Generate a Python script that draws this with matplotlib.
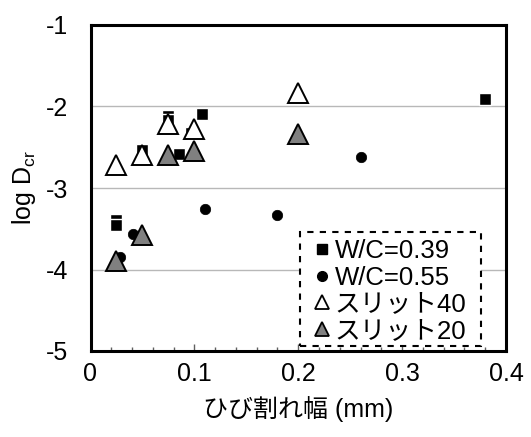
import numpy as np
import matplotlib
matplotlib.use("Agg")
import matplotlib.pyplot as plt
from matplotlib.ticker import MultipleLocator, FuncFormatter
from matplotlib.lines import Line2D
from matplotlib.patches import Rectangle

plt.rcParams['font.family'] = ['Liberation Sans', 'Noto Sans CJK JP', 'DejaVu Sans']
plt.rcParams['mathtext.default'] = 'regular'
plt.rcParams['axes.unicode_minus'] = False

# W/C=0.39 (squares); first two are the partly hidden back squares
wc39_x = [0.025, 0.075, 0.025, 0.075, 0.050, 0.085, 0.097, 0.107, 0.380]
wc39_y = [-3.39, -2.12, -3.45, -2.17, -2.53, -2.58, -2.32, -2.09, -1.91]

# W/C=0.55 (circles)
wc55_x = [0.028, 0.041, 0.110, 0.180, 0.260]
wc55_y = [-3.85, -3.57, -3.26, -3.33, -2.62]

# slit 40 (open triangles)
s40_x = [0.025, 0.050, 0.075, 0.100, 0.200]
s40_y = [-2.72, -2.60, -2.21, -2.28, -1.83]

# slit 20 (grey triangles)
s20_x = [0.025, 0.050, 0.075, 0.100, 0.200]
s20_y = [-3.90, -3.58, -2.60, -2.55, -2.34]

labels = ['W/C=0.39', 'W/C=0.55', 'スリット40', 'スリット20']

fig = plt.figure(figsize=(5.31, 4.37), dpi=100)
ax = fig.add_axes([90.5 / 531, 86 / 437, 415.5 / 531, 326 / 437])

ax.plot(wc39_x, wc39_y, 's', ms=9, mfc='black', mec='white', mew=1.0, ls='none', zorder=3)
ax.plot(wc55_x, wc55_y, 'o', ms=7.5, mfc='black', mec='black', mew=0.5, ls='none', zorder=4)
ax.plot(s40_x, s40_y, '^', ms=14, mfc='white', mec='black', mew=1.4, ls='none', zorder=5)
ax.plot(s20_x, s20_y, '^', ms=14, mfc='#808080', mec='black', mew=1.4, ls='none', zorder=5)

ax.set_xlim(0, 0.4)
ax.set_ylim(-5, -1)
ax.xaxis.set_major_locator(MultipleLocator(0.1))
ax.xaxis.set_minor_locator(MultipleLocator(0.02))
ax.yaxis.set_major_locator(MultipleLocator(1))
ax.xaxis.set_major_formatter(FuncFormatter(lambda v, p: f'{v:g}'))
ax.tick_params(axis='x', which='major', direction='in', length=5, width=1, color='#606060',
               labelsize=18, pad=8)
ax.tick_params(axis='x', which='minor', direction='in', length=3, width=1, color='#606060')
ax.tick_params(axis='y', which='major', length=0, labelsize=18, pad=16)
ax.yaxis.grid(True, color='#b8b8b8', linewidth=1.0)
ax.set_axisbelow(True)

for sp in ax.spines.values():
    sp.set_linewidth(2.2)
    sp.set_color('black')

ax.set_xlabel('ひび割れ幅 (mm)', fontsize=18, labelpad=7)
ax.set_ylabel(r'log D$_{cr}$', fontsize=18, labelpad=6)

# dashed legend box
box = Rectangle((0.504, 0.015), 0.436, 0.35, transform=ax.transAxes,
                facecolor='white', edgecolor='black', lw=1.5, ls=(0, (3, 3)), zorder=9)
ax.add_patch(box)

handles = [
    Line2D([], [], marker='s', ls='none', ms=7, mfc='black', mec='black'),
    Line2D([], [], marker='o', ls='none', ms=7, mfc='black', mec='black'),
    Line2D([], [], marker='^', ls='none', ms=10, mfc='white', mec='black', mew=1.3),
    Line2D([], [], marker='^', ls='none', ms=10, mfc='#808080', mec='black', mew=1.3),
]
leg = ax.legend(handles, labels, loc='lower left', bbox_to_anchor=(0.532, 0.025),
                fontsize=18.5, frameon=False,
                handlelength=0.8, handletextpad=0.1, labelspacing=0.1,
                borderpad=0, borderaxespad=0)
leg.set_zorder(10)

fig.savefig('out.png', dpi=100)
